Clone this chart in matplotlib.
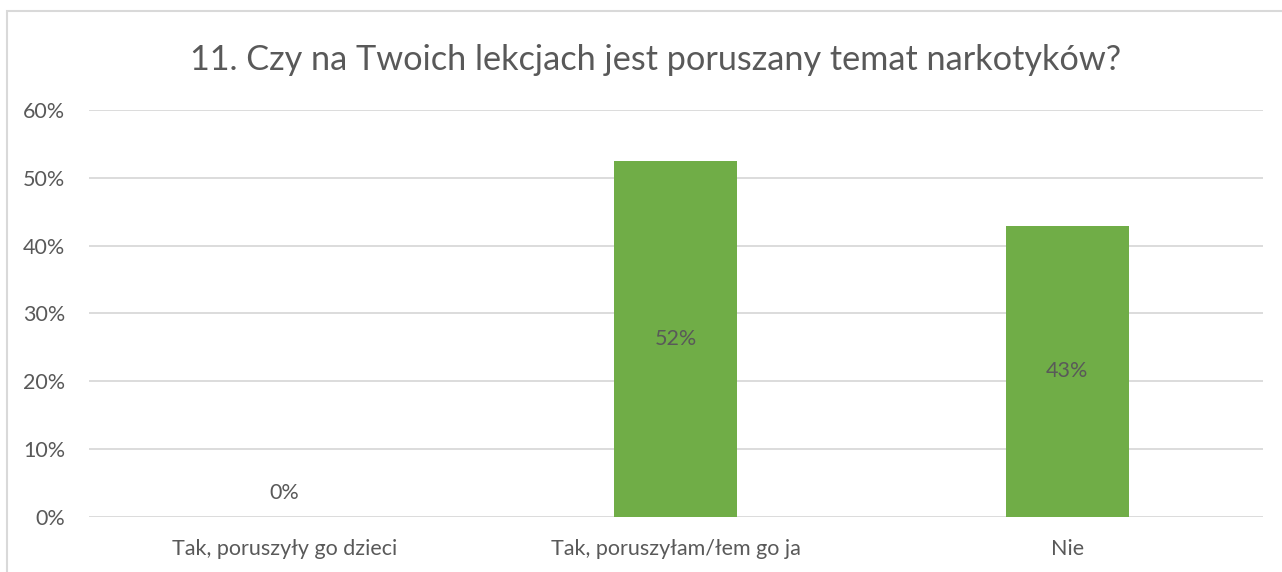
import matplotlib.pyplot as plt
from matplotlib.patches import Rectangle
from matplotlib.ticker import FuncFormatter

# data
kategorie = ['Tak, poruszyły go dzieci', 'Tak, poruszyłam/łem go ja', 'Nie']
wartosci = [0.0, 52.4, 42.9]
etykiety = ['0%', '52%', '43%']
tytul = '11. Czy na Twoich lekcjach jest poruszany temat narkotyków?'

plt.rcParams['font.family'] = ['Lato', 'DejaVu Sans']
szary = '#595959'

fig = plt.figure(figsize=(12.82, 5.72), dpi=100)
ax = fig.add_axes([0.0694, 0.096, 0.9156, 0.712])

# chart border (only top and left visible in the crop)
fig.patches.append(Rectangle((7 / 1282, -0.1), 1.2, 1 - 11 / 572 + 0.1,
                             transform=fig.transFigure, fill=False,
                             edgecolor='#D9D9D9', linewidth=1.5))

x = range(len(kategorie))
ax.bar(x, wartosci, width=0.315, color='#70AD47', zorder=3)

# data labels
for i, (v, t) in enumerate(zip(wartosci, etykiety)):
  if v > 0:
    ax.text(i, v / 2, t, ha='center', va='center', fontsize=15.5, color=szary, zorder=4)
  else:
    ax.annotate(t, xy=(i, 0), xytext=(0, 17), textcoords='offset points',
                ha='center', va='center', fontsize=15.5, color=szary)

ax.set_xlim(-0.5, len(kategorie) - 0.5)
ax.set_ylim(0, 60)
ax.set_yticks(range(0, 61, 10))
ax.yaxis.set_major_formatter(FuncFormatter(lambda v, p: f'{v:.0f}%'))
ax.set_xticks(list(x))
ax.set_xticklabels(kategorie)

ax.grid(axis='y', color='#D9D9D9', linewidth=1.3, zorder=0)
for s in ax.spines.values():
  s.set_visible(False)
ax.tick_params(axis='both', length=0, labelsize=15.5, labelcolor=szary)
ax.tick_params(axis='y', pad=17)
ax.tick_params(axis='x', pad=16)

fig.text(0.511, 0.895, tytul, ha='center', va='center', fontsize=24.7, color=szary)

fig.savefig('out.png', dpi=100)
